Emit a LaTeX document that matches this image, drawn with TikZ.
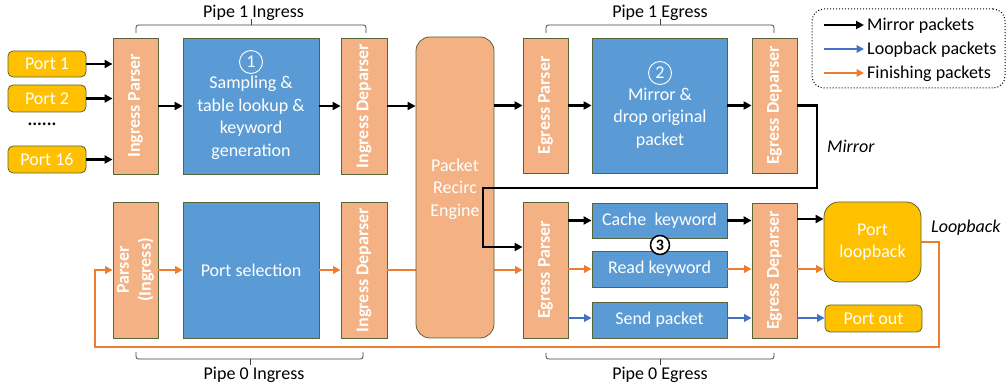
\documentclass[tikz,border=0pt]{standalone}
\usepackage{fontspec}
\setmainfont{Carlito}
\usetikzlibrary{arrows.meta}
\definecolor{boxorange}{HTML}{F4B183}
\definecolor{boxblue}{HTML}{5B9BD5}
\definecolor{portyellow}{HTML}{FFC000}
\definecolor{edgeolive}{HTML}{56663A}
\definecolor{arrblue}{HTML}{4472C4}
\definecolor{arrorange}{HTML}{ED7D31}
\definecolor{bracegray}{HTML}{404040}
\begin{document}
\begin{tikzpicture}[x=1pt,y=-1pt,
 txt/.style={font=\fontsize{18}{22.5}\selectfont},
 obox/.style={draw=edgeolive, line width=0.8pt, fill=boxorange, inner sep=0pt},
 bbox/.style={draw=edgeolive, line width=0.8pt, fill=boxblue, inner sep=0pt, text=white, txt, align=center},
 pbox/.style={draw=edgeolive, line width=0.8pt, fill=portyellow, rounded corners=5pt, inner sep=0pt, text=white, txt, align=center},
 vlab/.style={rotate=90, text=white, font=\bfseries\fontsize{18}{22}\selectfont, align=center, inner sep=0pt},
 wtxt/.style={txt, text=white, align=center, inner sep=0pt},
 blk/.style={draw=black, line width=2.4pt, -{Triangle[length=8pt,width=8pt]}},
 bln/.style={draw=arrblue, line width=2pt, -{Triangle[length=7.5pt,width=7.5pt]}},
 orn/.style={draw=arrorange, line width=2pt, -{Triangle[length=7.5pt,width=7.5pt]}},
 brc/.style={draw=bracegray, line width=0.8pt, rounded corners=2.5pt},
 pipelab/.style={txt, text=black, inner sep=0pt, anchor=base},
 numcirc/.style={circle, draw=white, line width=0.9pt, minimum size=23pt, inner sep=0pt, text=white, txt},
]
\useasboundingbox (0,0) rectangle (1007,387);

% ports
\node[pbox, minimum width=78pt, minimum height=26pt] (port1) at (47,64) {Port 1};
\node[pbox, minimum width=78pt, minimum height=27pt] (port2) at (47,98.5) {Port 2};
\node[font=\bfseries\fontsize{18}{22}\selectfont, inner sep=0pt] (dots) at (42,124) {......};
\node[pbox, minimum width=78pt, minimum height=27pt] (port16) at (47,159.5) {Port 16};

% pipe 1 ingress
\node[obox, minimum width=45pt, minimum height=136pt] (ip1) at (135.5,106) {};
\node[vlab] (ip1t) at (ip1) {Ingress Parser};
\node[bbox, minimum width=136pt, minimum height=136pt] (sp1) at (251,106) {};
\node[numcirc] (n1) at (251,62) {1};
\node[wtxt] (sp1t) at (251,118) {Sampling \&\\table lookup \&\\keyword\\generation};
\node[obox, minimum width=46pt, minimum height=136pt] (id1) at (364,106) {};
\node[vlab] (id1t) at (id1) {Ingress Deparser};

% pipe 1 egress
\node[obox, minimum width=45pt, minimum height=135pt] (ep1) at (545.5,105.5) {};
\node[vlab] (ep1t) at (ep1) {Egress Parser};
\node[bbox, minimum width=135pt, minimum height=135pt] (mir) at (659.5,105.5) {};
\node[numcirc] (n2) at (660,73) {2};
\node[wtxt] (mirt) at (660,118) {Mirror \&\\drop original\\packet};
\node[obox, minimum width=45pt, minimum height=135pt] (ed1) at (774.5,105.5) {};
\node[vlab] (ed1t) at (ed1) {Egress Deparser};

% pipe 0 ingress
\node[obox, minimum width=45pt, minimum height=136pt] (pi0) at (135.5,270) {};
\node[vlab] (pi0t) at (pi0) {Parser\\(Ingress)};
\node[bbox, minimum width=136pt, minimum height=136pt] (ps0) at (251,270) {Port selection};
\node[obox, minimum width=46pt, minimum height=136pt] (id0) at (364,270) {};
\node[vlab] (id0t) at (id0) {Ingress Deparser};

% pipe 0 egress
\node[obox, minimum width=45pt, minimum height=136pt] (ep0) at (545.5,270) {};
\node[vlab] (ep0t) at (ep0) {Egress Parser};
\node[bbox, minimum width=135pt, minimum height=35pt] (cache) at (659.5,220.5) {Cache\ \ keyword};
\node[bbox, minimum width=135pt, minimum height=36pt] (read) at (659.5,269) {Read keyword};
\node[bbox, minimum width=135pt, minimum height=36pt] (send) at (659.5,320) {Send packet};
\node[obox, minimum width=45pt, minimum height=135pt] (ed0) at (774.5,270.5) {};
\node[vlab] (ed0t) at (ed0) {Egress Deparser};
\node[pbox, rounded corners=15pt, minimum width=97pt, minimum height=80pt] (ploop) at (872.5,242) {Port\\loopback};
\node[pbox, minimum width=97pt, minimum height=27pt] (pout) at (873.5,318.5) {Port out};
\node[circle, draw=black, fill=white, line width=1.5pt, minimum size=19pt, inner sep=0pt, font=\bfseries\fontsize{16}{16}\selectfont] (n3) at (660,245) {3};

% orange line passing behind the recirculation engine
\draw[orn] (id0.east) -- (id0.east -| ep0.west);

% packet recirculation engine
\node[obox, rounded corners=14pt, minimum width=78pt, minimum height=301pt] (rec) at (455,187.5) {};
\node[wtxt] (rect) at (455,189) {Packet\\Recirc\\Engine};

% black arrows, pipe 1
\draw[blk] (port1.east) -- (port1.east -| ip1.west);
\draw[blk] (port2.east) -- (port2.east -| ip1.west);
\draw[blk] (port16.east) -- (port16.east -| ip1.west);
\draw[blk] (ip1) -- (sp1);
\draw[blk] (sp1) -- (id1);
\draw[blk] (id1.east) -- (id1.east -| rec.west);
\draw[blk] (rec.east |- ep1) -- (ep1.west);
\draw[blk] (ep1) -- (mir);
\draw[blk] (mir) -- (ed1);

% mirror path
\coordinate (mr1) at (817,188);
\coordinate (mr2) at (483,188);
\coordinate (mr3) at (483,247);
\draw[blk] (ed1.east) -| (mr1) -- (mr2) -- (mr3) -- (mr3 -| ep0.west);

% pipe 0 egress arrows
\draw[blk] (ep0.east |- cache) -- (cache.west);
\draw[blk] (cache.east) -- (cache.east -| ed0.west);
\coordinate (cb) at (800,219);
\draw[blk] (ed0.east |- cb) -- (cb -| ploop.west);
\draw[orn] (ep0.east |- read) -- (read.west);
\draw[orn] (read.east) -- (read.east -| ed0.west);
\draw[orn] (ed0.east |- read) -- (read -| ploop.west);
\coordinate (sb) at (800,318);
\draw[bln] (ep0.east |- sb) -- (sb -| send.west);
\draw[bln] (send.east |- sb) -- (sb -| ed0.west);
\draw[bln] (ed0.east |- sb) -- (sb -| pout.west);

% finishing loop
\coordinate (lp1) at (939,347);
\coordinate (lp2) at (95,347);
\draw[orn] (ploop.east) -| (lp1) -- (lp2) |- (pi0.west);
\draw[orn] (pi0) -- (ps0);
\draw[orn] (ps0) -- (id0);

% braces and pipe labels
\draw[brc] (136,33) -- (136,25) -- (366,25) -- (366,33);
\draw[brc] (251,25) -- (251,19);
\node[pipelab] (lb1) at (253.5,18) {Pipe 1 Ingress};
\draw[brc] (546,33) -- (546,25) -- (774,25) -- (774,33);
\draw[brc] (660,25) -- (660,19);
\node[pipelab] (lb2) at (660,18) {Pipe 1 Egress};
\draw[brc] (136,352) -- (136,359) -- (363,359) -- (363,352);
\draw[brc] (250,359) -- (250,365);
\node[pipelab] (lb3) at (254,380) {Pipe 0 Ingress};
\draw[brc] (546,353) -- (546,359) -- (774,359) -- (774,353);
\draw[brc] (660,359) -- (660,365);
\node[pipelab] (lb4) at (660,379.5) {Pipe 0 Egress};

% italic labels
\node[pipelab, anchor=base west, font=\itshape\fontsize{18}{22}\selectfont] (mlab) at (827,153) {Mirror};
\node[pipelab, anchor=base west, font=\itshape\fontsize{18}{22}\selectfont] (llab) at (931,233) {Loopback};

% legend
\node[draw=black, dotted, line width=1pt, rounded corners=12pt, minimum width=193pt, minimum height=79pt, inner sep=0pt] (leg) at (908.5,48.5) {};
\node[pipelab, anchor=base west] (lt1) at (867,31) {Mirror packets};
\node[pipelab, anchor=base west] (lt2) at (867,55) {Loopback packets};
\node[pipelab, anchor=base west] (lt3) at (867,79) {Finishing packets};
\coordinate (la1) at (824,25);
\coordinate (la2) at (824,49);
\coordinate (la3) at (824,73);
\draw[blk, shorten >=3pt] (la1) -- (la1 -| lt1.west);
\draw[bln, shorten >=3pt] (la2) -- (la2 -| lt2.west);
\draw[orn, shorten >=3pt] (la3) -- (la3 -| lt3.west);
\end{tikzpicture}
\end{document}
